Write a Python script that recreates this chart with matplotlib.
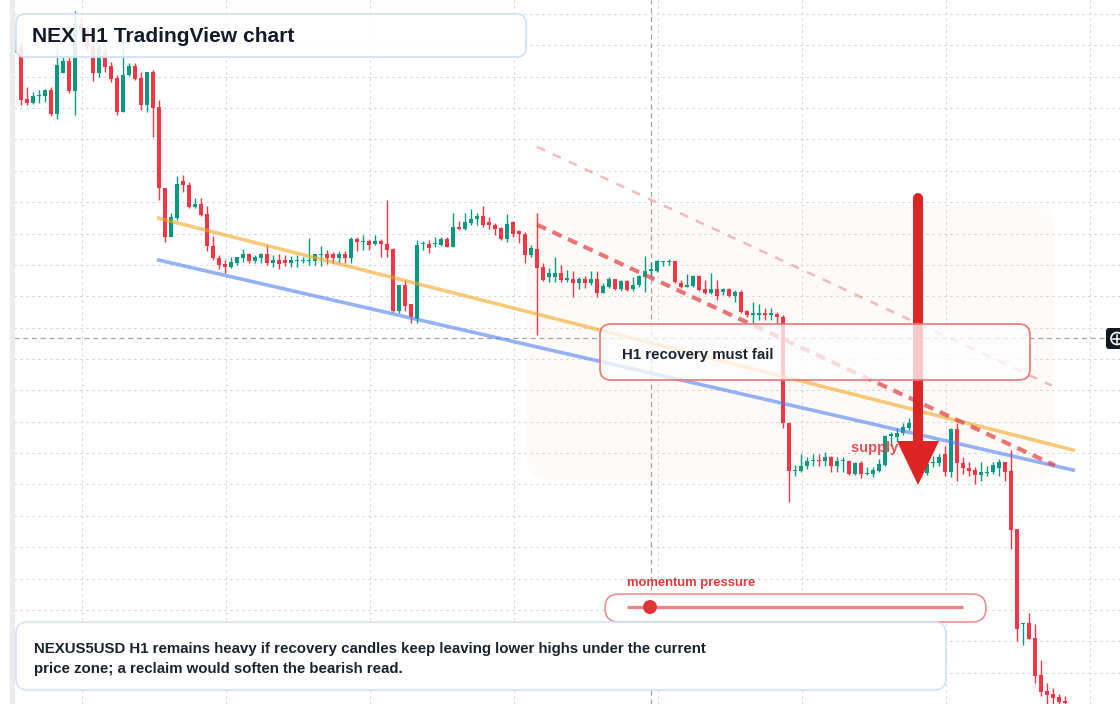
import numpy as np
import matplotlib
matplotlib.use("Agg")
import matplotlib.pyplot as plt
from matplotlib.patches import FancyBboxPatch, Polygon, Circle

plt.rcParams['font.family'] = ['Liberation Sans', 'DejaVu Sans']

# NEXUS5USD H1 candles (price units)
opens = [9.50, 9.53, 9.01, 8.97, 9.04, 9.04, 9.10, 8.86, 9.27, 9.39,
         9.09, 9.76, 9.70, 9.53, 9.27, 9.47, 9.34, 9.22, 8.88, 9.25,
         9.34, 9.22, 8.95, 9.28, 8.93, 8.12, 7.63, 7.82, 8.19, 8.15,
         7.93, 7.96, 7.86, 7.54, 7.42, 7.36, 7.33, 7.37, 7.42, 7.46,
         7.39, 7.42, 7.46, 7.37, 7.40, 7.40, 7.37, 7.39, 7.39, 7.39,
         7.39, 7.45, 7.46, 7.46, 7.42, 7.46, 7.42, 7.61, 7.58, 7.59,
         7.56, 7.59, 7.56, 7.51, 6.89, 7.15, 6.96, 6.81, 7.56, 7.56,
         7.56, 7.55, 7.61, 7.53, 7.73, 7.71, 7.77, 7.81, 7.84, 7.78,
         7.75, 7.72, 7.61, 7.78, 7.69, 7.66, 7.45, 7.51, 7.33, 7.23,
         7.23, 7.27, 7.20, 7.21, 7.17, 7.21, 7.17, 7.21, 7.07, 7.13,
         7.21, 7.11, 7.19, 7.11, 7.15, 7.23, 7.29, 7.29, 7.38, 7.38,
         7.39, 7.17, 7.13, 7.14, 7.24, 7.11, 7.07, 7.11, 7.08, 7.11,
         7.04, 7.08, 6.89, 6.85, 6.85, 6.87, 6.85, 6.86, 6.83, 5.77,
         5.28, 5.28, 5.33, 5.38, 5.39, 5.38, 5.42, 5.33, 5.38, 5.38,
         5.25, 5.36, 5.25, 5.25, 5.28, 5.34, 5.64, 5.63, 5.67, 5.72,
         5.77, 5.54, 5.26, 5.36, 5.36, 5.45, 5.27, 5.71, 5.36, 5.31,
         5.29, 5.24, 5.26, 5.27, 5.31, 5.37, 5.28, 4.70, 3.75, 3.76,
         3.61, 3.24, 3.08, 3.05, 3.02, 2.98]
highs = [9.60, 9.57, 9.13, 9.08, 9.10, 9.11, 9.13, 9.51, 9.43, 9.43,
         9.89, 9.82, 9.74, 9.55, 9.55, 9.53, 9.38, 9.25, 9.60, 9.37,
         9.37, 9.28, 9.28, 9.30, 9.00, 8.12, 7.87, 8.24, 8.25, 8.18,
         8.02, 8.02, 7.94, 7.64, 7.45, 7.40, 7.43, 7.43, 7.51, 7.47,
         7.45, 7.47, 7.55, 7.45, 7.46, 7.45, 7.44, 7.45, 7.43, 7.62,
         7.46, 7.54, 7.50, 7.48, 7.49, 7.49, 7.63, 7.63, 7.65, 7.61,
         7.65, 7.61, 8.00, 7.52, 7.15, 7.20, 6.96, 7.60, 7.59, 7.60,
         7.63, 7.63, 7.63, 7.87, 7.79, 7.87, 7.91, 7.87, 7.94, 7.83,
         7.77, 7.73, 7.86, 7.79, 7.70, 7.68, 7.55, 7.87, 7.37, 7.32,
         7.43, 7.35, 7.30, 7.29, 7.23, 7.24, 7.29, 7.29, 7.17, 7.23,
         7.21, 7.20, 7.20, 7.23, 7.25, 7.44, 7.38, 7.40, 7.39, 7.41,
         7.39, 7.20, 7.26, 7.25, 7.25, 7.20, 7.27, 7.20, 7.12, 7.12,
         7.10, 7.10, 6.90, 6.98, 6.96, 6.92, 6.92, 6.88, 6.85, 5.77,
         5.34, 5.45, 5.42, 5.45, 5.45, 5.47, 5.43, 5.42, 5.42, 5.39,
         5.37, 5.38, 5.32, 5.32, 5.40, 5.65, 5.68, 5.72, 5.77, 5.82,
         5.80, 5.56, 5.38, 5.43, 5.45, 5.53, 5.72, 5.77, 5.42, 5.37,
         5.32, 5.37, 5.33, 5.37, 5.40, 5.37, 5.49, 4.70, 3.76, 3.86,
         3.75, 3.39, 3.16, 3.11, 3.05, 3.03]
lows = [9.48, 8.95, 8.95, 8.96, 8.97, 8.98, 8.84, 8.81, 9.27, 9.07,
        8.85, 9.65, 9.50, 9.19, 9.23, 9.28, 9.18, 8.85, 8.88, 9.24,
        9.20, 8.90, 8.88, 8.63, 8.00, 7.58, 7.63, 7.80, 8.08, 7.92,
        7.92, 7.84, 7.49, 7.40, 7.31, 7.27, 7.32, 7.35, 7.38, 7.37,
        7.37, 7.37, 7.35, 7.33, 7.31, 7.34, 7.33, 7.33, 7.37, 7.35,
        7.35, 7.34, 7.36, 7.37, 7.37, 7.37, 7.37, 7.49, 7.50, 7.50,
        7.55, 7.43, 7.43, 6.88, 6.87, 6.89, 6.77, 6.77, 7.50, 7.47,
        7.53, 7.54, 7.53, 7.53, 7.70, 7.70, 7.75, 7.75, 7.73, 7.71,
        7.65, 7.60, 7.58, 7.63, 7.57, 7.37, 7.43, 6.65, 7.19, 7.18,
        7.18, 7.18, 7.18, 7.03, 7.11, 7.12, 7.15, 7.03, 7.07, 7.12,
        7.10, 7.09, 7.09, 7.09, 7.13, 7.08, 7.23, 7.28, 7.34, 7.35,
        7.17, 7.12, 7.13, 7.13, 7.09, 7.06, 7.06, 7.00, 7.05, 7.03,
        6.98, 6.87, 6.83, 6.76, 6.80, 6.80, 6.80, 6.76, 5.72, 4.97,
        5.23, 5.27, 5.30, 5.33, 5.33, 5.33, 5.27, 5.27, 5.27, 5.24,
        5.24, 5.21, 5.24, 5.22, 5.27, 5.33, 5.53, 5.58, 5.65, 5.70,
        5.50, 5.22, 5.24, 5.32, 5.33, 5.23, 5.22, 5.18, 5.25, 5.23,
        5.15, 5.18, 5.23, 5.25, 5.23, 5.18, 4.50, 3.58, 3.54, 3.60,
        3.16, 3.03, 2.94, 2.94, 2.94, 2.92]
closes = [9.56, 9.00, 8.97, 9.04, 9.05, 9.10, 8.86, 9.35, 9.39, 9.09,
          9.76, 9.70, 9.53, 9.27, 9.53, 9.33, 9.21, 8.88, 9.25, 9.34,
          9.21, 8.95, 9.28, 8.92, 8.12, 7.63, 7.83, 8.16, 8.15, 7.93,
          7.96, 7.85, 7.54, 7.42, 7.35, 7.33, 7.38, 7.43, 7.46, 7.39,
          7.43, 7.46, 7.37, 7.40, 7.36, 7.37, 7.40, 7.40, 7.40, 7.40,
          7.46, 7.46, 7.42, 7.42, 7.46, 7.42, 7.61, 7.58, 7.59, 7.55,
          7.59, 7.56, 7.50, 6.89, 7.15, 6.94, 6.83, 7.55, 7.57, 7.52,
          7.57, 7.61, 7.53, 7.73, 7.71, 7.78, 7.81, 7.84, 7.75, 7.75,
          7.71, 7.61, 7.76, 7.66, 7.66, 7.45, 7.52, 7.32, 7.20, 7.27,
          7.27, 7.20, 7.21, 7.17, 7.21, 7.17, 7.21, 7.07, 7.14, 7.21,
          7.11, 7.19, 7.10, 7.15, 7.24, 7.29, 7.30, 7.39, 7.39, 7.39,
          7.18, 7.13, 7.14, 7.24, 7.10, 7.07, 7.11, 7.04, 7.11, 7.04,
          7.08, 6.88, 6.85, 6.86, 6.86, 6.85, 6.86, 6.83, 5.77, 5.28,
          5.29, 5.33, 5.38, 5.39, 5.38, 5.42, 5.33, 5.38, 5.39, 5.25,
          5.36, 5.25, 5.26, 5.29, 5.35, 5.64, 5.65, 5.67, 5.73, 5.77,
          5.54, 5.26, 5.35, 5.37, 5.42, 5.27, 5.71, 5.36, 5.31, 5.28,
          5.24, 5.27, 5.27, 5.34, 5.37, 5.27, 4.69, 3.70, 3.76, 3.60,
          3.23, 3.07, 3.04, 3.01, 2.97, 2.96]

# drawn levels: (bar index, price) at each end
orange_x, orange_y = [23.67, 176.67], [7.82, 5.49]
blue_x, blue_y = [23.67, 176.67], [7.40, 5.29]
lower_high_x, lower_high_y = [87, 173.33], [7.75, 5.34]
outer_x, outer_y = [87, 172.8], [8.53, 6.14]
cross_bar, cross_price = 106, 6.62

W, H = 1120, 704
fig = plt.figure(figsize=(W / 100, H / 100), dpi=100)

ax = fig.add_axes([14 / W, 0, 1 - 14 / W, 1])
ax.set_facecolor('white')

idx = np.arange(len(opens))
o = np.array(opens)
c = np.array(closes)
hi = np.array(highs)
lo = np.array(lows)
up = c >= o
cols = np.where(up, '#089981', '#f23645')

ax.vlines(idx, lo, hi, colors=cols, lw=1, zorder=3)
body_h = np.maximum(np.abs(c - o), 0.012)
ax.bar(idx, body_h, bottom=np.minimum(o, c), width=0.7, color=cols,
       linewidth=0, zorder=4)

ax.set_xlim(-1 / 6, (W - 15) / 6)
ax.set_ylim(10 - H / 100, 10)

# grid (dots 2px on / 4px off)
ax.set_xticks(11.17 + 24 * np.arange(8))
ax.set_yticks(9.86 - 0.314 * np.arange(23))
ax.grid(True, ls=(0, (1.92, 3.84)), color='#c9cdd4', lw=0.75)
ax.tick_params(length=0, labelleft=False, labelbottom=False)
for s in ax.spines.values():
    s.set_visible(False)

# crosshair
ax.axvline(cross_bar, ls=(0, (4, 3)), color='#a0a4aa', lw=0.9, zorder=2)
ax.axhline(cross_price, ls=(0, (4, 3)), color='#a0a4aa', lw=0.9, zorder=2)

# trend lines
ax.plot(orange_x, orange_y, color='#f5a623', alpha=0.6, lw=2.6, zorder=5,
        solid_capstyle='butt')
ax.plot(blue_x, blue_y, color='#4f7ff0', alpha=0.6, lw=2.6, zorder=5,
        solid_capstyle='butt')
ax.plot(lower_high_x, lower_high_y, color='#e04848', alpha=0.75, lw=3,
        ls=(0, (2.4, 1.7)), zorder=6)
ax.plot(outer_x, outer_y, color='#e86a6a', alpha=0.45, lw=1.8,
        ls=(0, (3.5, 3.5)), zorder=6)

# overlay in pixel coordinates for the annotations
ov = fig.add_axes([0, 0, 1, 1], zorder=10)
ov.set_xlim(0, W)
ov.set_ylim(H, 0)
ov.axis('off')
ov.patch.set_alpha(0)

# faint zone behind the candles
zone = FancyBboxPatch((527, 205), 526, 275, boxstyle="round,pad=0,rounding_size=22",
                      transform=ov.transData, facecolor='#fdf0e6', alpha=0.28,
                      edgecolor='none', zorder=1)
ax.add_patch(zone)

# left strip
fig.patches.append(plt.Rectangle((10 / W, 0), 4 / W, 1, transform=fig.transFigure,
                                 color='#ebebeb', zorder=0))

# title box
ov.add_patch(FancyBboxPatch((16, 14), 510, 43, boxstyle="round,pad=0,rounding_size=9",
                            facecolor='white', alpha=0.88, edgecolor='none', zorder=20))
ov.add_patch(FancyBboxPatch((16, 14), 510, 43, boxstyle="round,pad=0,rounding_size=9",
                            facecolor='none', edgecolor='#d3e1f6', lw=1.3, zorder=21))
ov.text(32, 37, "NEX H1 TradingView chart", fontsize=15.1, fontweight='bold',
        color='#131b2a', va='center', ha='left', zorder=22)

# supply zone label (under the arrow)
ov.text(851, 448, "supply zone", fontsize=10.5, fontweight='bold', color='#e23b3b',
        alpha=0.9, va='center', ha='left', zorder=11)

# big down arrow
ov.plot([918, 918], [198, 446], color='#dc2626', lw=7.2, solid_capstyle='round',
        zorder=12)
ov.add_patch(Polygon([(897, 441), (939, 441), (918, 485)], closed=True,
                     facecolor='#dc2626', edgecolor='none', zorder=12))

# callout
ov.add_patch(FancyBboxPatch((600, 324), 430, 56, boxstyle="round,pad=0,rounding_size=11",
                            facecolor='white', alpha=0.75, edgecolor='none', zorder=14))
ov.add_patch(FancyBboxPatch((600, 324), 430, 56, boxstyle="round,pad=0,rounding_size=11",
                            facecolor='none', edgecolor='#e87575', lw=1.2, zorder=15))
ov.text(622, 355, "H1 recovery must fail", fontsize=10.8, fontweight='bold',
        color='#1b2230', va='center', ha='left', zorder=16)

# momentum gauge
ov.text(627, 583, "momentum pressure", fontsize=9.35, fontweight='bold',
        color='#e03a3a', va='center', ha='left', zorder=16)
ov.add_patch(FancyBboxPatch((605, 594), 381, 28, boxstyle="round,pad=0,rounding_size=14",
                            facecolor='white', edgecolor='#ee8f8f', lw=1.2, zorder=15))
ov.plot([627, 963], [607, 607], color='#ef8383', lw=2.3, zorder=16,
        solid_capstyle='butt')
ov.add_patch(Circle((650, 607), 7, facecolor='#e03535', edgecolor='none', zorder=17))

# bottom note
ov.add_patch(FancyBboxPatch((16, 622), 930, 68, boxstyle="round,pad=0,rounding_size=12",
                            facecolor='white', edgecolor='#d3e1f6', lw=1.2, zorder=15))
ov.text(34, 649, "NEXUS5USD H1 remains heavy if recovery candles keep leaving lower highs under the current",
        fontsize=10.8, fontweight='bold', color='#1b2230', va='center', ha='left', zorder=16)
ov.text(34, 669, "price zone; a reclaim would soften the bearish read.",
        fontsize=10.8, fontweight='bold', color='#1b2230', va='center', ha='left', zorder=16)

# crosshair price-scale marker
ov.add_patch(FancyBboxPatch((1106, 328), 20, 21, boxstyle="round,pad=0,rounding_size=3",
                            facecolor='#131722', edgecolor='none', zorder=16))
ov.add_patch(Circle((1117, 338.5), 6, facecolor='none', edgecolor='white', lw=1.2, zorder=17))
ov.plot([1113, 1121], [338.5, 338.5], color='white', lw=1.1, zorder=17)
ov.plot([1117, 1117], [334.5, 342.5], color='white', lw=1.1, zorder=17)

fig.savefig("out.png", dpi=100, facecolor='white')
